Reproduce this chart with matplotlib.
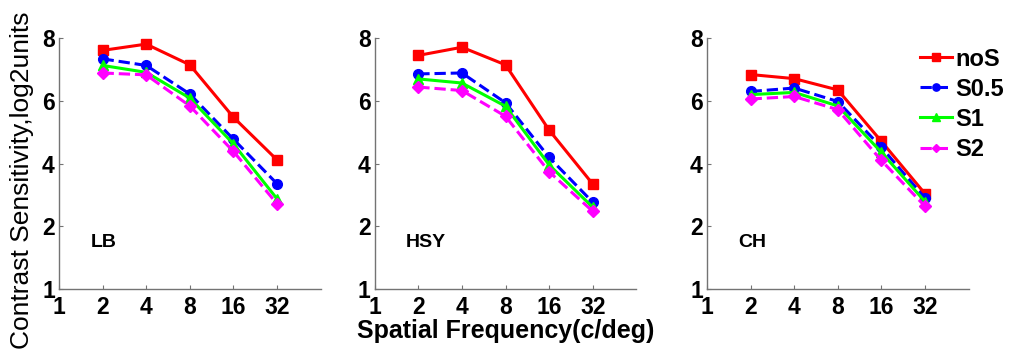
import matplotlib
matplotlib.use("Agg")
import matplotlib.pyplot as plt

# ---- Data ---- #
freqs = [2, 4, 8, 16, 32]
subjects = ["LB", "HSY", "CH"]
conditions = ["noS", "S0.5", "S1", "S2"]

lb_nos = [7.61, 7.81, 7.15, 5.48, 4.12]
lb_s05 = [7.34, 7.13, 6.22, 4.78, 3.36]
lb_s1 = [7.13, 6.91, 6.09, 4.63, 2.88]
lb_s2 = [6.89, 6.83, 5.84, 4.39, 2.72]

hsy_nos = [7.45, 7.71, 7.15, 5.07, 3.35]
hsy_s05 = [6.86, 6.89, 5.94, 4.20, 2.77]
hsy_s1 = [6.70, 6.57, 5.83, 3.96, 2.61]
hsy_s2 = [6.44, 6.33, 5.51, 3.74, 2.48]

ch_nos = [6.84, 6.71, 6.35, 4.71, 3.04]
ch_s05 = [6.30, 6.41, 5.98, 4.52, 2.90]
ch_s1 = [6.20, 6.27, 5.84, 4.36, 2.79]
ch_s2 = [6.06, 6.14, 5.72, 4.10, 2.64]

xtick_vals = [1, 2, 4, 8, 16, 32]
xtick_labels = ["1", "2", "4", "8", "16", "32"]
ytick_vals = [0, 2, 4, 6, 8]
ytick_labels = ["1", "2", "4", "6", "8"]

panel_data = [
    [lb_nos, lb_s05, lb_s1, lb_s2],
    [hsy_nos, hsy_s05, hsy_s1, hsy_s2],
    [ch_nos, ch_s05, ch_s1, ch_s2],
]

# ---- Styles ---- #
styles = [
    dict(color=(1, 0, 0), ls="-", marker="s", ms=7),
    dict(color=(0, 0, 1), ls="--", marker="o", ms=7),
    dict(color=(0, 1, 0), ls="-", marker="^", ms=7),
    dict(color=(1, 0, 1), ls="--", marker="D", ms=6),
]

plt.rcParams["font.family"] = ["Liberation Sans", "DejaVu Sans"]

fig = plt.figure(figsize=(10.1, 3.6), dpi=100)
lefts = [0.0584, 0.371, 0.700]
axes = []
for i, left in enumerate(lefts):
    ax = fig.add_axes([left, 0.197, 0.259, 0.697])
    axes.append(ax)
    for j, series in enumerate(panel_data[i]):
        st = styles[j]
        ax.plot(freqs, series, color=st["color"], ls=st["ls"], marker=st["marker"],
                lw=2.2, ms=st["ms"], label=conditions[j])
    ax.set_xscale("log", base=2)
    ax.set_xlim(1, 64)
    ax.set_ylim(0, 8)
    ax.set_xticks(xtick_vals)
    ax.set_xticklabels(xtick_labels)
    ax.minorticks_off()
    ax.set_yticks(ytick_vals)
    ax.set_yticklabels(ytick_labels)
    for lab in ax.get_xticklabels() + ax.get_yticklabels():
        lab.set_fontweight("bold")
        lab.set_fontsize(16.5)
    ax.tick_params(direction="in", length=3, color="0.45")
    ax.tick_params(axis="x", pad=5)
    ax.tick_params(axis="y", pad=3)
    ax.spines["top"].set_visible(False)
    ax.spines["right"].set_visible(False)
    for s in ["left", "bottom"]:
        ax.spines[s].set_color("0.45")
        ax.spines[s].set_linewidth(1.0)
    ax.text(1.65, 1.5, subjects[i], fontsize=14, fontweight="bold", va="center", ha="left")

axes[0].set_ylabel("Contrast Sensitivity,log2units", fontsize=19)
axes[0].yaxis.set_label_coords(-0.097, 0.434)
axes[1].set_xlabel("Spatial Frequency(c/deg)", fontsize=18, fontweight="bold", labelpad=0)

leg = axes[2].legend(loc="upper left", bbox_to_anchor=(0.911, 0.868),
                     bbox_transform=fig.transFigure, frameon=False,
                     fontsize=17, handlelength=1.35, handletextpad=0.15,
                     labelspacing=0.3, borderpad=0, borderaxespad=0,
                     markerscale=0.75)
for t in leg.get_texts():
    t.set_fontweight("bold")

fig.savefig("out.png", dpi=100)
